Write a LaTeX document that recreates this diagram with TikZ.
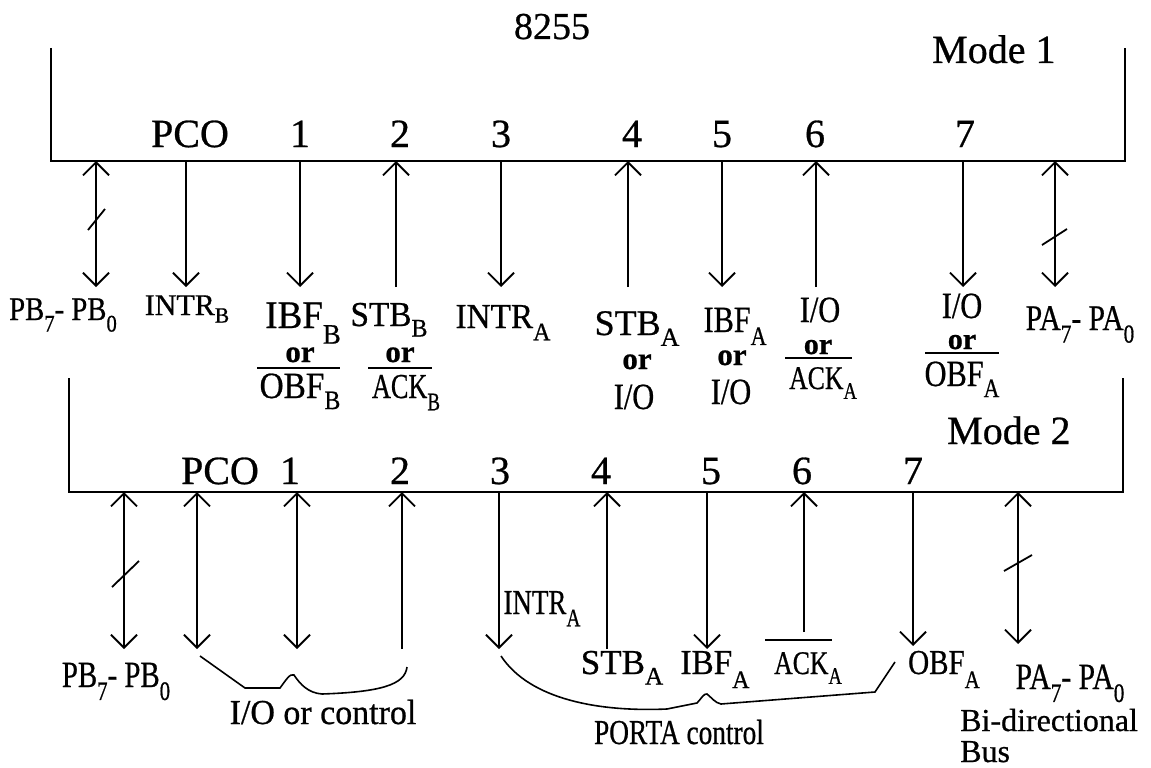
\documentclass[tikz,border=0pt]{standalone}
\usepackage{fontspec}
\setmainfont{Liberation Serif}[FakeBold=0.7]
\usepackage{graphicx}
\usetikzlibrary{arrows.meta}
\newcommand{\fs}[1]{\fontsize{#1}{#1}\selectfont}
\newcommand{\lo}[2][0.3]{\raisebox{-#1em}{\scalebox{0.72}{#2}}}
\newcommand{\hs}[2]{\scalebox{#1}[1]{#2}}
\begin{document}
\begin{tikzpicture}[x=1pt,y=-1pt,
  wire/.style={line width=1.8pt},
  dn/.style={wire,-{Straight Barb[length=13pt,width=26pt]}},
  bi/.style={wire,{Straight Barb[length=13pt,width=26pt]}-{Straight Barb[length=13pt,width=26pt]}},
  lab/.style={inner sep=0pt,anchor=base},
  orr/.style={lab,font=\fs{31}\bfseries},
  bar/.style={line width=1.6pt}]
\useasboundingbox (0,0) rectangle (1151,768);

% ---------- Mode 1 box ----------
\coordinate (TL) at (51,48);
\coordinate (BL) at (51,161);
\coordinate (BR) at (1125,161);
\coordinate (TR) at (1125,48);
\draw[wire] (TL) -- (BL) -- (BR) -- (TR);

\node[lab] (t8255) at (552,39) {\fs{38}8255};
\node[lab,anchor=base west] (mode1) at (932,63) {\fs{40}Mode 1};

\node[lab] (apco) at (190,147) {\fs{40}PCO};
\node[lab] (a1) at (300,147) {\fs{40}1};
\node[lab] (a2) at (400,147) {\fs{40}2};
\node[lab] (a3) at (501,147) {\fs{40}3};
\node[lab] (a4) at (632,147) {\fs{40}4};
\node[lab] (a5) at (722,147) {\fs{40}5};
\node[lab] (a6) at (815,147) {\fs{40}6};
\node[lab] (a7) at (965,147) {\fs{40}7};

\foreach \n/\x in {pb/96,pco/186,one/300,two/396,three/501,four/628,five/722,six/816,seven/963,pa/1055}{
  \coordinate (T\n) at (\x,161);
  \coordinate (T\n e) at (\x,287);
}
\draw[bi] (Tpb) -- (Tpbe);
\draw[dn] (Tpco) -- (Tpcoe);
\draw[dn] (Tone) -- (Tonee);
\draw[dn] (Ttwoe) -- (Ttwo);
\draw[dn] (Tthree) -- (Tthreee);
\draw[dn] (Tfoure) -- (Tfour);
\draw[dn] (Tfive) -- (Tfivee);
\draw[dn] (Tsixe) -- (Tsix);
\draw[dn] (Tseven) -- (Tsevene);
\draw[bi] (Tpa) -- (Tpae);
\draw[wire] (88,230) -- (105,209);
\draw[wire] (1042,245) -- (1067,229);

% top labels
\node[lab] (m1pb) at (63,320) {\fs{33}\hs{0.87}{PB\lo[0.35]{7}- PB\lo[0.35]{0}}};
\node[lab] (m1intrb) at (187,315) {\fs{30}INTR\lo[0.25]{B}};
\node[lab] (m1ibf) at (303,328) {\fs{39}\hs{0.95}{IBF\lo[0.4]{B}}};
\node[orr] (m1or1) at (300,362) {or};
\draw[bar] (257,368) -- (340,368);
\node[lab] (m1obf) at (300,398) {\fs{37}\hs{0.9}{OBF\lo{B}}};

\node[lab] (m1stbb) at (389,326) {\fs{35}\hs{0.95}{STB\lo{B}}};
\node[orr] (m1or2) at (400,362) {or};
\draw[bar] (368,368) -- (432,368);
\node[lab] (m1ackb) at (406,398) {\fs{35}\hs{0.75}{ACK\lo[0.35]{B}}};

\node[lab] (m1intra) at (503,328) {\fs{35}\hs{0.95}{INTR\lo[0.35]{A}}};

\node[lab] (m1stba) at (637,335) {\fs{36}STB\lo[0.3]{A}};
\node[orr] (m1or3) at (637,369) {or};
\node[lab] (m1io4) at (634,409) {\fs{37}\hs{0.82}{I/O}};

\node[lab] (m1ibfa) at (735,332) {\fs{37}\hs{0.82}{IBF\lo[0.35]{A}}};
\node[orr] (m1or4) at (732,365) {or};
\node[lab] (m1io5) at (731,404) {\fs{37}\hs{0.82}{I/O}};

\node[lab] (m1io6) at (820,322) {\fs{37}\hs{0.82}{I/O}};
\node[orr] (m1or5) at (818,354) {\fs{30}or};
\draw[bar] (785,358) -- (852,358);
\node[lab] (m1acka) at (823,389) {\fs{33}\hs{0.78}{ACK\lo[0.3]{A}}};

\node[lab] (m1io7) at (962,318) {\fs{37}\hs{0.82}{I/O}};
\node[orr] (m1or6) at (962,349) {\fs{30}or};
\draw[bar] (925,353) -- (999,353);
\node[lab] (m1obfa) at (962,386) {\fs{37}\hs{0.82}{OBF\lo[0.3]{A}}};

\node[lab] (m1pa) at (1080,330) {\fs{36}\hs{0.82}{PA\lo[0.35]{7}- PA\lo[0.35]{0}}};

% ---------- Mode 2 box ----------
\coordinate (TL2) at (69,378);
\coordinate (BL2) at (69,492);
\coordinate (BR2) at (1123,492);
\coordinate (TR2) at (1123,378);
\draw[wire] (TL2) -- (BL2) -- (BR2) -- (TR2);

\node[lab,anchor=base west] (mode2) at (947,444) {\fs{40}Mode 2};

\node[lab] (bpco) at (220,484) {\fs{40}PCO};
\node[lab] (b1) at (290,484) {\fs{40}1};
\node[lab] (b2) at (400,484) {\fs{40}2};
\node[lab] (b3) at (500,484) {\fs{40}3};
\node[lab] (b4) at (601,484) {\fs{40}4};
\node[lab] (b5) at (711,484) {\fs{40}5};
\node[lab] (b6) at (802,484) {\fs{40}6};
\node[lab] (b7) at (913,484) {\fs{40}7};

\foreach \n/\x/\e in {pb/124/649,pco/197/649,one/297/649,two/402/649,three/499/649,four/607/649,five/707/649,six/804/632,seven/913/646,pa/1018/644}{
  \coordinate (B\n) at (\x,492);
  \coordinate (B\n e) at (\x,\e);
}
\draw[bi] (Bpb) -- (Bpbe);
\draw[bi] (Bpco) -- (Bpcoe);
\draw[bi] (Bone) -- (Bonee);
\draw[dn] (Btwoe) -- (Btwo);
\draw[dn] (Bthree) -- (Bthreee);
\draw[dn] (Bfoure) -- (Bfour);
\draw[dn] (Bfive) -- (Bfivee);
\draw[dn] (Bsixe) -- (Bsix);
\draw[dn] (Bseven) -- (Bsevene);
\draw[bi] (Bpa) -- (Bpae);
\draw[wire] (112,587) -- (139,561);
\draw[wire] (1004,571) -- (1032,555);

% bottom labels
\node[lab] (m2pb) at (116,687) {\fs{37}\hs{0.78}{PB\lo[0.35]{7}- PB\lo[0.35]{0}}};
\node[lab] (m2intra) at (542,614) {\fs{35}\hs{0.77}{INTR\lo[0.35]{A}}};
\node[lab] (m2stba) at (622,674) {\fs{35}STB\lo[0.3]{A}};
\node[lab] (m2ibfa) at (715,674) {\fs{35}\hs{0.95}{IBF\lo[0.4]{A}}};
\draw[bar] (765,640) -- (832,640);
\node[lab] (m2acka) at (808,674) {\fs{33}\hs{0.78}{ACK\lo[0.3]{A}}};
\node[lab] (m2obfa) at (944,674) {\fs{35}\hs{0.83}{OBF\lo[0.4]{A}}};
\node[lab] (m2pa) at (1070,689) {\fs{37}\hs{0.8}{PA\lo[0.35]{7}- PA\lo[0.35]{0}}};
\node[lab,anchor=base west] (bidir) at (960,731) {\fs{32}Bi-directional};
\node[lab,anchor=base west] (bus) at (960,762) {\fs{32}Bus};

% braces
\draw[bar] (200,656) -- (245,688) -- (280,688)
  .. controls (286,680) and (290,673) .. (294,675)
  .. controls (300,684) and (308,693) .. (322,694)
  .. controls (380,692) and (405,685) .. (407,667);
\node[lab] (ioctl) at (323,724) {\fs{35}\hs{0.97}{I/O or control}};

\draw[bar] (501,656) .. controls (530,700) and (600,712) .. (667,709)
  -- (697,703) .. controls (701,699) and (704,693) .. (707,694)
  .. controls (711,697) and (715,703) .. (721,704)
  -- (875,692) -- (895,662);
\node[lab] (portactl) at (679,744) {\fs{35}\hs{0.78}{PORTA control}};
\end{tikzpicture}
\end{document}
